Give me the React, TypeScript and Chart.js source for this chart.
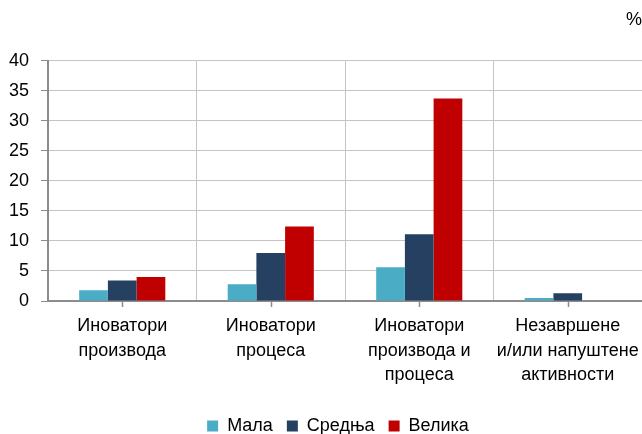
import React, { useEffect, useRef } from "react";
import { Chart, registerables } from "chart.js";

Chart.register(...registerables);

const categories: string[][] = [
  ["Иноватори", "производа"],
  ["Иноватори", "процеса"],
  ["Иноватори", "производа и", "процеса"],
  ["Незавршене", "и/или напуштене", "активности"],
];
const seriesNames = ["Мала", "Средња", "Велика"];
const mala = [1.8, 2.8, 5.6, 0.5];
const sredna = [3.4, 8.0, 11.1, 1.3];
const velika = [4.0, 12.4, 33.7, 0];
const colors = ["#4bacc6", "#254061", "#c00000"];
const yTicks = [0, 5, 10, 15, 20, 25, 30, 35, 40];
const unitLabel = "%";

const FONT = "'Liberation Sans', Arial, sans-serif";
const AXIS = "#8c8c8c";
const GRID = "#c4c4c4";

const centerTicks = {
  id: "centerTicks",
  afterLayout(chart: any) {
    if (chart.legend) {
      chart.legend.left += 17;
      chart.legend.right += 17;
    }
  },
  afterDraw(chart: any) {
    const xs = chart.scales.x;
    const ctx = chart.ctx;
    const bottom = chart.chartArea.bottom;
    ctx.save();
    ctx.strokeStyle = AXIS;
    ctx.lineWidth = 1.5;
    categories.forEach((_, i) => {
      const x = Math.round(xs.getPixelForValue(i)) + 0.5;
      ctx.beginPath();
      ctx.moveTo(x, bottom);
      ctx.lineTo(x, bottom + 6);
      ctx.stroke();
    });
    ctx.restore();
  },
};

export default function App() {
  const ref = useRef<HTMLCanvasElement>(null);
  useEffect(() => {
    if (!ref.current) return;
    const data = [mala, sredna, velika];
    const chart = new Chart(ref.current, {
      type: "bar",
      data: {
        labels: categories as any,
        datasets: seriesNames.map((name, i) => ({
          label: name,
          data: data[i],
          backgroundColor: colors[i],
          borderWidth: 0,
          categoryPercentage: 0.58,
          barPercentage: 1,
        })),
      },
      plugins: [centerTicks],
      options: {
        responsive: false,
        animation: false,
        devicePixelRatio: 1,
        layout: { padding: { top: 0, left: 0, right: 0, bottom: 0 } },
        plugins: {
          tooltip: { enabled: false },
          title: {
            display: true,
            text: unitLabel,
            align: "end",
            color: "#000",
            font: { family: FONT, size: 18, weight: "normal", lineHeight: 1.2 },
            padding: { top: 9, bottom: 30 },
          },
          legend: {
            position: "bottom",
            labels: {
              color: "#000",
              font: { family: FONT, size: 18 },
              boxWidth: 11,
              boxHeight: 11,
              padding: 14,
            },
          },
        },
        scales: {
          x: {
            grid: {
              offset: true,
              color: GRID,
              drawTicks: false,
              lineWidth: 1,
            },
            border: { color: AXIS, width: 2 },
            ticks: {
              color: "#000",
              font: { family: FONT, size: 18, lineHeight: 1.36 },
              padding: 13,
              maxRotation: 0,
              autoSkip: false,
            },
            afterFit: (s: any) => {
              s.height = 102;
              s.paddingLeft = 0;
              s.paddingRight = 0;
            },
          },
          y: {
            min: 0,
            max: 40,
            afterBuildTicks: (s: any) => {
              s.ticks = yTicks.map((v) => ({ value: v }));
            },
            grid: {
              color: GRID,
              tickColor: AXIS,
              tickLength: 7,
              lineWidth: 1,
            },
            border: { color: AXIS, width: 2 },
            ticks: {
              color: "#000",
              font: { family: FONT, size: 18 },
              padding: 12,
            },
            afterFit: (s: any) => {
              s.width = 48;
            },
          },
        },
      },
    });
    return () => chart.destroy();
  }, []);
  return (
    <div
      style={{
        position: "absolute",
        left: 0,
        top: 0,
        width: 642,
        height: 434,
        overflow: "hidden",
        background: "#fff",
      }}
    >
      <canvas ref={ref} width={642} height={445} style={{ width: 642, height: 445, display: "block" }} />
    </div>
  );
}
